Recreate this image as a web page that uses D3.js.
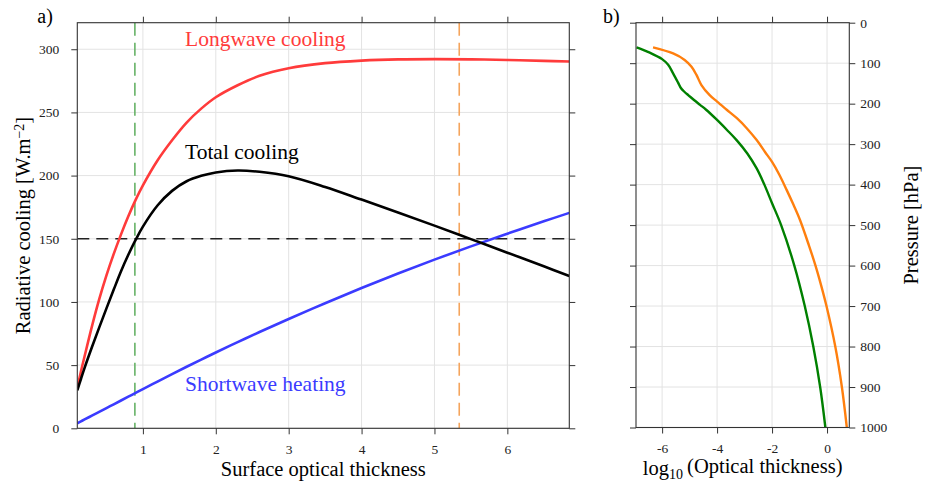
<!DOCTYPE html>
<html>
<head>
<meta charset="utf-8">
<script src="https://cdn.jsdelivr.net/npm/d3@7"></script>
<style>
    body { margin: 0; background: #fff; }
    svg { font-family: "Liberation Serif", "Times New Roman", serif; }
    .grid line { stroke: #e3e3e3; stroke-width: 1; }
    .axis path { display: none; }
    .axis line { stroke: #333; }
</style>
</head>
<body>
<svg id="chart"></svg>
<script>
// panel a) - radiative terms vs surface optical thickness
const opticalThickness = [0.1, 0.15, 0.2, 0.3, 0.4, 0.5, 0.6, 0.7, 0.8, 0.9, 1.0, 1.2, 1.4, 1.6, 1.8, 2.0, 2.3, 2.6, 3.0, 3.5, 4.0, 4.5, 5.0, 5.5, 6.0, 6.5, 6.85];
const longwaveCooling = [32, 45, 57, 80.5, 102, 121, 138, 153.5, 167.8, 180.8, 192.3, 212, 228, 242, 253, 262, 271.5, 279, 285, 289, 291, 292, 292.2, 292, 291.5, 290.8, 290.3];
const totalCooling = [30, 39, 47.8, 64.1, 79.7, 94.9, 109.8, 124.3, 137.3, 149.1, 159.6, 176.3, 187.9, 195.5, 199.8, 202.5, 204, 203, 199.5, 191, 181, 170.8, 160.4, 149.7, 139, 128.2, 120.6];
const shortwaveHeating = [4, 5.5, 7, 10, 13, 16, 19, 22, 25, 28, 31, 37, 42.9, 48.7, 54.4, 60, 68.2, 76.2, 86.5, 99, 111, 122.5, 133.5, 144, 154, 163.8, 170.5];
const coolingThreshold = 150;
const markerThickness = [0.89, 5.34];
const xTicksA = [1, 2, 3, 4, 5, 6];
const yTicksA = [0, 50, 100, 150, 200, 250, 300];

// panel b) - optical thickness profiles vs pressure
const pressureGreen = [61, 74, 90, 104, 125, 148, 160, 170, 180, 191, 203, 215, 239, 265, 290, 323, 360, 400, 446, 500, 600, 700, 800, 900, 1000];
const logTauGreen = [-6.93, -6.45, -6.0, -5.78, -5.6, -5.42, -5.33, -5.2, -5.03, -4.84, -4.62, -4.40, -4.02, -3.64, -3.29, -2.90, -2.56, -2.28, -2.0, -1.67, -1.19, -0.81, -0.50, -0.25, -0.06];
const pressureOrange = [61, 76, 92, 109, 129, 154, 179, 195, 215, 236, 260, 290, 320, 344, 375, 413, 450, 488, 550, 600, 650, 700, 800, 900, 1000];
const logTauOrange = [-6.33, -5.6, -5.18, -4.93, -4.75, -4.57, -4.27, -4.0, -3.65, -3.28, -2.93, -2.56, -2.25, -2.0, -1.74, -1.47, -1.22, -0.98, -0.66, -0.42, -0.21, -0.02, 0.30, 0.54, 0.72];
const xTicksB = [-6, -4, -2, 0];
const yTicksB = [0, 100, 200, 300, 400, 500, 600, 700, 800, 900, 1000];

const WIDTH = 927, HEIGHT = 485;
const PANEL_A = { left: 77.3, right: 569.3, top: 22.7, bottom: 428.3 };
const PANEL_B = { left: 636, right: 849.3, top: 22.7, bottom: 427.5 };
const TICK = 6;
const FONT = "'Liberation Serif', 'Times New Roman', serif";

const svg = d3.select("#chart").attr("width", WIDTH).attr("height", HEIGHT);

function drawGrid(g, xScale, yScale, xTicks, yTicks, box) {
    const grid = g.append("g").classed("grid", true);
    grid.selectAll(".gx").data(xTicks).enter().append("line")
        .attr("x1", d => xScale(d)).attr("x2", d => xScale(d))
        .attr("y1", box.top).attr("y2", box.bottom);
    grid.selectAll(".gy").data(yTicks).enter().append("line")
        .attr("x1", box.left).attr("x2", box.right)
        .attr("y1", d => yScale(d)).attr("y2", d => yScale(d));
}

function drawAxis(g, axis, transform) {
    g.append("g").classed("axis", true)
        .attr("transform", transform)
        .call(axis)
        .selectAll("text")
            .style("font-family", FONT)
            .style("font-size", "13.5px")
            .attr("fill", "#222");
}

function drawFrame(g, box) {
    g.append("rect")
        .attr("x", box.left).attr("y", box.top)
        .attr("width", box.right - box.left).attr("height", box.bottom - box.top)
        .attr("fill", "none").attr("stroke", "#333").attr("stroke-width", 1.1);
}

function clipFor(id, box) {
    svg.append("clipPath").attr("id", id).append("rect")
        .attr("x", box.left).attr("y", box.top)
        .attr("width", box.right - box.left).attr("height", box.bottom - box.top);
}

const fmt = d => String(d);

// ---------- panel a ----------
const xA = d3.scaleLinear().domain([0.1, 6.85]).range([PANEL_A.left, PANEL_A.right]);
const yA = d3.scaleLinear().domain([0, 321]).range([PANEL_A.bottom, PANEL_A.top]);
const gA = svg.append("g");
clipFor("clip-a", PANEL_A);

drawGrid(gA, xA, yA, xTicksA, yTicksA, PANEL_A);

drawAxis(gA, d3.axisBottom(xA).tickValues(xTicksA).tickSize(TICK).tickPadding(10).tickFormat(fmt),
    `translate(0, ${PANEL_A.bottom})`);
drawAxis(gA, d3.axisTop(xA).tickValues(xTicksA).tickSize(TICK).tickFormat(""),
    `translate(0, ${PANEL_A.top})`);
drawAxis(gA, d3.axisLeft(yA).tickValues(yTicksA).tickSize(TICK).tickPadding(12).tickFormat(fmt),
    `translate(${PANEL_A.left}, 0)`);
drawAxis(gA, d3.axisRight(yA).tickValues(yTicksA).tickSize(TICK).tickFormat(""),
    `translate(${PANEL_A.right}, 0)`);

const plotA = gA.append("g").attr("clip-path", "url(#clip-a)");

plotA.append("line")
    .attr("x1", PANEL_A.left).attr("x2", PANEL_A.right)
    .attr("y1", yA(coolingThreshold)).attr("y2", yA(coolingThreshold))
    .attr("stroke", "#222").attr("stroke-width", 1.3).attr("stroke-dasharray", "12,7");

const markerColors = ["#66b266", "#f5a45c"];
plotA.selectAll(".marker").data(markerThickness).enter().append("line")
    .attr("x1", d => xA(d)).attr("x2", d => xA(d))
    .attr("y1", PANEL_A.top).attr("y2", PANEL_A.bottom)
    .attr("stroke", (d, i) => markerColors[i]).attr("stroke-width", 1.6)
    .attr("stroke-dasharray", "13,7");

const seriesA = [
    { values: longwaveCooling, color: "#ff3b3b" },
    { values: shortwaveHeating, color: "#3b3bff" },
    { values: totalCooling, color: "#000" }
];
const lineA = values => d3.line()
    .x((d, i) => xA(opticalThickness[i]))
    .y(d => yA(d))
    .curve(d3.curveCatmullRom.alpha(0.5))(values);

plotA.selectAll(".series").data(seriesA).enter().append("path")
    .attr("d", d => lineA(d.values))
    .attr("fill", "none").attr("stroke", d => d.color).attr("stroke-width", 2.6);

drawFrame(gA, PANEL_A);

gA.append("text").attr("x", 185).attr("y", 46).attr("font-size", "21.5px").attr("fill", "#ff3b3b").text("Longwave cooling");
gA.append("text").attr("x", 185).attr("y", 158.5).attr("font-size", "21.5px").attr("fill", "#000").text("Total cooling");
gA.append("text").attr("x", 185).attr("y", 391).attr("font-size", "21.5px").attr("fill", "#3b3bff").text("Shortwave heating");

gA.append("text").attr("x", PANEL_A.left - 40).attr("y", 23).attr("font-size", "20px").text("a)");

gA.append("text")
    .attr("x", (PANEL_A.left + PANEL_A.right) / 2).attr("y", 476)
    .attr("text-anchor", "middle").attr("font-size", "20.5px")
    .text("Surface optical thickness");

const yLabelA = gA.append("text")
    .attr("transform", `translate(30, ${(PANEL_A.top + PANEL_A.bottom) / 2}) rotate(-90)`)
    .attr("text-anchor", "middle").attr("font-size", "20.5px");
yLabelA.append("tspan").text("Radiative cooling [W.m");
yLabelA.append("tspan").attr("dy", "-0.45em").attr("font-size", "14px").text("−2");
yLabelA.append("tspan").attr("dy", "0.3em").text("]");

// ---------- panel b ----------
const xB = d3.scaleLinear().domain([-6.95, 0.81]).range([PANEL_B.left, PANEL_B.right]);
const yB = d3.scaleLinear().domain([0, 1000]).range([PANEL_B.top, PANEL_B.bottom]);
const gB = svg.append("g");
clipFor("clip-b", PANEL_B);

drawGrid(gB, xB, yB, xTicksB, yTicksB, PANEL_B);

drawAxis(gB, d3.axisBottom(xB).tickValues(xTicksB).tickSize(TICK).tickPadding(10).tickFormat(fmt),
    `translate(0, ${PANEL_B.bottom})`);
drawAxis(gB, d3.axisTop(xB).tickValues(xTicksB).tickSize(TICK).tickFormat(""),
    `translate(0, ${PANEL_B.top})`);
drawAxis(gB, d3.axisLeft(yB).tickValues(yTicksB).tickSize(TICK).tickFormat(""),
    `translate(${PANEL_B.left}, 0)`);
drawAxis(gB, d3.axisRight(yB).tickValues(yTicksB).tickSize(TICK).tickPadding(5).tickFormat(fmt),
    `translate(${PANEL_B.right}, 0)`);

const plotB = gB.append("g").attr("clip-path", "url(#clip-b)");
const lineB = (xs, ps) => d3.line()
    .x((d, i) => xB(xs[i]))
    .y(d => yB(d))
    .curve(d3.curveCatmullRom.alpha(0.5))(ps);

const seriesB = [
    { xs: logTauOrange, ps: pressureOrange, color: "#ff7f0e" },
    { xs: logTauGreen, ps: pressureGreen, color: "#008000" }
];
plotB.selectAll(".series").data(seriesB).enter().append("path")
    .attr("d", d => lineB(d.xs, d.ps))
    .attr("fill", "none").attr("stroke", d => d.color).attr("stroke-width", 2.4);

drawFrame(gB, PANEL_B);

gB.append("text").attr("x", PANEL_B.left - 33).attr("y", 23).attr("font-size", "20px").text("b)");

const xLabelB = gB.append("text")
    .attr("x", (PANEL_B.left + PANEL_B.right) / 2).attr("y", 475)
    .attr("text-anchor", "middle").attr("font-size", "20.5px");
xLabelB.append("tspan").text("log");
xLabelB.append("tspan").attr("dy", "0.3em").attr("font-size", "14px").text("10");
xLabelB.append("tspan").attr("dy", "-0.3em").text("\u2009(Optical thickness)");

gB.append("text")
    .attr("transform", `translate(918, ${(PANEL_B.top + PANEL_B.bottom) / 2}) rotate(-90)`)
    .attr("text-anchor", "middle").attr("font-size", "20.5px")
    .text("Pressure [hPa]");
</script>
</body>
</html>
